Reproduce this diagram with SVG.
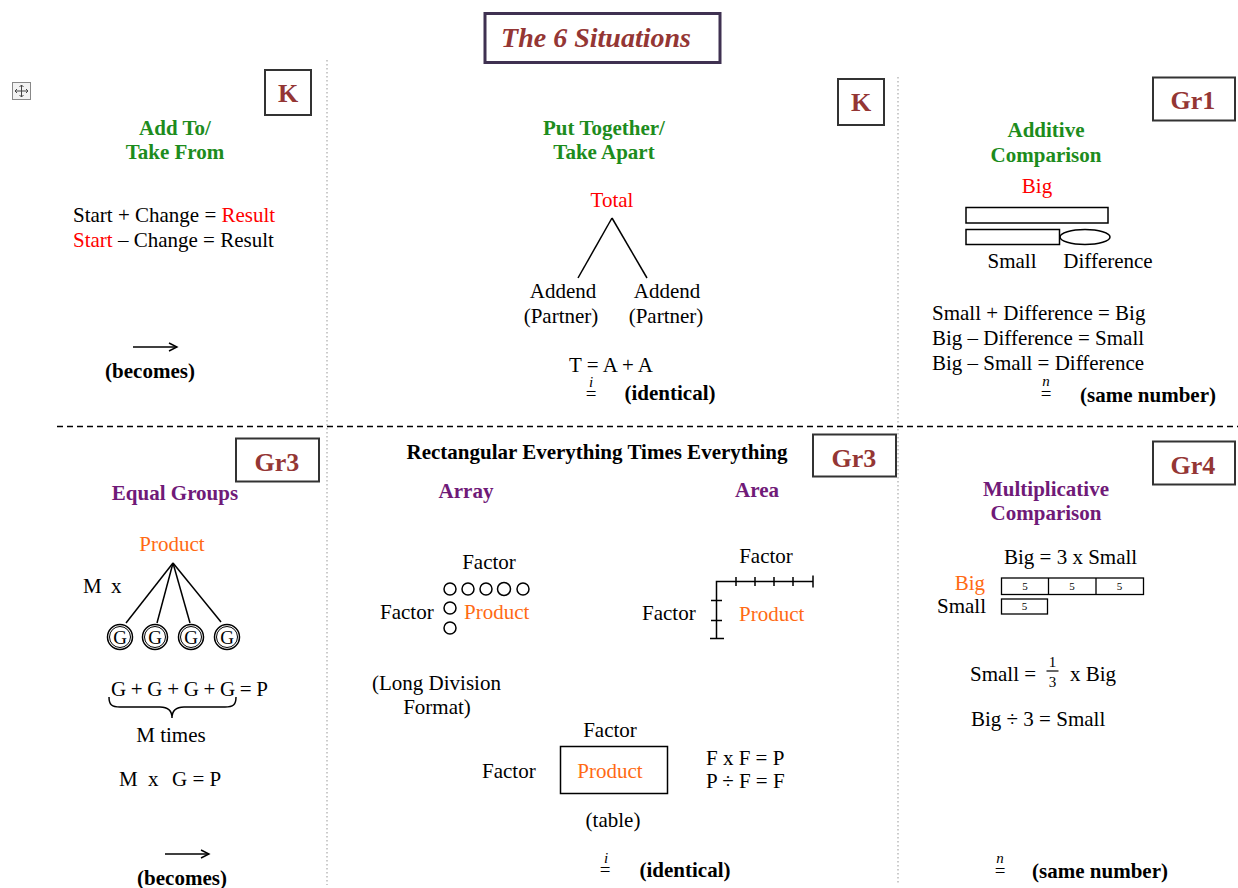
<svg xmlns="http://www.w3.org/2000/svg" width="1238" height="888" viewBox="0 0 1238 888">
<style>
text{font-family:"Liberation Serif","Times New Roman",serif;font-size:21px;fill:#000}
.b{font-weight:bold}
.c{text-anchor:middle}
.g{fill:#1d8c1d;font-weight:bold}
.p{fill:#701a78;font-weight:bold}
.r{fill:#f00}
.o{fill:#ff6a13}
.lvl{fill:#943634;font-weight:bold;font-size:26px;text-anchor:middle}
.lbox{fill:none;stroke:#333;stroke-width:2}
.ln{stroke:#000;stroke-width:1.5;fill:none}
.sep{stroke:#bbb;stroke-width:1.5;stroke-dasharray:1.5 2.5}
.sm{font-size:11px;text-anchor:middle}
.it{font-style:italic;font-size:15px;text-anchor:middle}
.eq{font-size:19px;text-anchor:middle}
</style>
<defs>
<marker id="arr" markerUnits="userSpaceOnUse" markerWidth="12" markerHeight="12" refX="10" refY="6" orient="auto">
<path d="M2,2 L10,6 L2,10" fill="none" stroke="#000" stroke-width="1.4"/>
</marker>
</defs>
<rect width="1238" height="888" fill="#fff"/>

<!-- layout lines -->
<g id="layout">
<line class="sep" x1="327" y1="60" x2="327" y2="885"/>
<line class="sep" x1="898" y1="77" x2="898" y2="885"/>
<line x1="57" y1="426.5" x2="1238" y2="426.5" stroke="#000" stroke-width="1.5" stroke-dasharray="6 4"/>
</g>

<g id="move-icon">
<rect x="12.5" y="82.5" width="18" height="17" fill="#f2f2f2" stroke="#888" stroke-width="1"/>
<path d="M21.5,85 V97 M15,91 H28 M19.5,87 L21.5,85 L23.5,87 M19.5,95 L21.5,97 L23.5,95 M17,89 L15,91 L17,93 M26,89 L28,91 L26,93" stroke="#444" stroke-width="1" fill="none"/>
</g>

<g id="title">
<rect x="485" y="13.5" width="235" height="49" fill="none" stroke="#3f3151" stroke-width="3"/>
<text x="596" y="47" class="c" style="font-weight:bold;font-style:italic;font-size:28px;fill:#943634">The 6 Situations</text>
</g>

<!-- Cell 1: Add To / Take From -->
<g id="add-to-take-from">
<rect class="lbox" x="265" y="70" width="46" height="45"/>
<text x="288" y="102" class="lvl">K</text>
<text x="175" y="135" class="g c">Add To/</text>
<text x="175" y="159" class="g c">Take From</text>
<text x="73" y="222">Start + Change = <tspan class="r">Result</tspan></text>
<text x="73" y="247"><tspan class="r">Start</tspan> – Change = Result</text>
<line class="ln" x1="133" y1="347" x2="177" y2="347" marker-end="url(#arr)"/>
<text x="150" y="378" class="b c">(becomes)</text>
</g>

<!-- Cell 2: Put Together / Take Apart -->
<g id="put-together-take-apart">
<rect class="lbox" x="838" y="79" width="46" height="46"/>
<text x="861" y="111" class="lvl">K</text>
<text x="604" y="135" class="g c">Put Together/</text>
<text x="604" y="159" class="g c">Take Apart</text>
<text x="612" y="207" class="r c">Total</text>
<text x="563" y="298" class="c">Addend</text>
<text x="561" y="323" class="c">(Partner)</text>
<text x="667" y="298" class="c">Addend</text>
<text x="666" y="323" class="c">(Partner)</text>
<text x="611" y="372" class="c">T = A + A</text>
<text x="591" y="387" class="it">i</text>
<text x="591" y="400" class="eq">=</text>
<text x="670" y="400" class="b c">(identical)</text>
</g>

<!-- Cell 3: Additive Comparison -->
<g id="additive-comparison">
<rect class="lbox" x="1153" y="77.5" width="82" height="43"/>
<text x="1193" y="109" class="lvl">Gr1</text>
<text x="1046" y="137" class="g c">Additive</text>
<text x="1046" y="162" class="g c">Comparison</text>
<text x="1037" y="193" class="r c">Big</text>
<rect class="ln" x="966" y="207.5" width="142" height="15.5"/>
<rect class="ln" x="966" y="229.5" width="93.5" height="15"/>
<ellipse class="ln" cx="1085" cy="237" rx="25" ry="7.5"/>
<text x="1012" y="268" class="c">Small</text>
<text x="1108" y="268" class="c">Difference</text>
<text x="932" y="320">Small + Difference = Big</text>
<text x="932" y="345">Big – Difference = Small</text>
<text x="932" y="370">Big – Small = Difference</text>
<text x="1046" y="386" class="it">n</text>
<text x="1046" y="400" class="eq">=</text>
<text x="1148" y="402" class="b c">(same number)</text>
</g>

<!-- Cell 4: Equal Groups -->
<g id="equal-groups">
<rect class="lbox" x="236" y="438.5" width="83" height="43"/>
<text x="277" y="471" class="lvl">Gr3</text>
<text x="175" y="500" class="p c">Equal Groups</text>
<text x="172" y="551" class="o c">Product</text>
<text x="83" y="593">M</text>
<text x="111" y="593">x</text>
<g id="g-circles">
<circle class="ln" cx="120" cy="637" r="12.5"/><circle cx="120" cy="637" r="10.5" fill="none" stroke="#000" stroke-width="1"/>
<circle class="ln" cx="155" cy="637" r="12.5"/><circle cx="155" cy="637" r="10.5" fill="none" stroke="#000" stroke-width="1"/>
<circle class="ln" cx="191" cy="637" r="12.5"/><circle cx="191" cy="637" r="10.5" fill="none" stroke="#000" stroke-width="1"/>
<circle class="ln" cx="227" cy="637" r="12.5"/><circle cx="227" cy="637" r="10.5" fill="none" stroke="#000" stroke-width="1"/>
<text x="120" y="644" class="c" style="font-size:19px">G</text>
<text x="155" y="644" class="c" style="font-size:19px">G</text>
<text x="191" y="644" class="c" style="font-size:19px">G</text>
<text x="227" y="644" class="c" style="font-size:19px">G</text>
</g>
<text x="111" y="696" textLength="157">G + G + G + G = P</text>
<path class="ln" d="M109,697 C109,705 112,707 120,707 L160,707 C168,707 172,710 172,718 C172,710 176,707 184,707 L225,707 C233,707 236,705 236,697"/>
<text x="171" y="742" class="c">M times</text>
<text x="119" y="786">M</text>
<text x="148" y="786">x</text>
<text x="172" y="786">G = P</text>
<line class="ln" x1="165" y1="854" x2="209" y2="854" marker-end="url(#arr)"/>
<text x="182" y="885" class="b c">(becomes)</text>
</g>

<!-- Cell 5: Rectangular -->
<g id="rectangular">
<text x="597" y="459" class="b c">Rectangular Everything Times Everything</text>
<rect class="lbox" x="813" y="434.5" width="83" height="42"/>
<text x="854" y="467" class="lvl">Gr3</text>
<text x="466" y="498" class="p c">Array</text>
<text x="757" y="497" class="p c">Area</text>
</g>

<g id="array">
<text x="489" y="569" class="c">Factor</text>
<circle class="ln" cx="450" cy="589" r="6"/>
<circle class="ln" cx="468" cy="589" r="6"/>
<circle class="ln" cx="486" cy="589" r="6"/>
<circle class="ln" cx="504" cy="589" r="6.5"/>
<circle class="ln" cx="523" cy="589" r="6"/>
<circle class="ln" cx="450" cy="608" r="6"/>
<circle class="ln" cx="450" cy="628" r="6"/>
<text x="380" y="619">Factor</text>
<text x="464" y="619" class="o">Product</text>
<text x="372" y="690">(Long Division</text>
<text x="437" y="714" class="c">Format)</text>
</g>

<g id="area">
<text x="766" y="563" class="c">Factor</text>
<path class="ln" d="M716.5,638.5 V581.5 H813 M736,577 V586 M755,577 V586 M774,577 V586 M793,577 V586 M813,575.5 V587.5 M711,600.5 H722 M711,620.5 H722 M710,638.5 H724"/>
<text x="642" y="620">Factor</text>
<text x="739" y="621" class="o">Product</text>
</g>

<g id="table">
<text x="610" y="737" class="c">Factor</text>
<rect class="ln" x="560.5" y="746.5" width="107" height="47"/>
<text x="610" y="778" class="o c">Product</text>
<text x="482" y="778">Factor</text>
<text x="706" y="765">F x F = P</text>
<text x="706" y="788">P ÷ F = F</text>
<text x="613" y="827" class="c">(table)</text>
<text x="606" y="863" class="it">i</text>
<text x="605" y="876" class="eq">=</text>
<text x="685" y="877" class="b c">(identical)</text>
</g>

<!-- Cell 6: Multiplicative Comparison -->
<g id="multiplicative-comparison">
<rect class="lbox" x="1153" y="441.5" width="82" height="43"/>
<text x="1193" y="474" class="lvl">Gr4</text>
<text x="1046" y="496" class="p c">Multiplicative</text>
<text x="1046" y="520" class="p c">Comparison</text>
<text x="1004" y="564">Big = 3 x Small</text>
<text x="985" y="590" class="o" text-anchor="end">Big</text>
<text x="986" y="613" text-anchor="end">Small</text>
<rect x="1001.5" y="578" width="142" height="16.5" fill="none" stroke="#000" stroke-width="1.3"/>
<line x1="1048.5" y1="578" x2="1048.5" y2="594.5" stroke="#000" stroke-width="1.3"/>
<line x1="1096" y1="578" x2="1096" y2="594.5" stroke="#000" stroke-width="1.3"/>
<rect x="1001.5" y="599" width="46" height="15" fill="none" stroke="#000" stroke-width="1.3"/>
<text x="1025" y="590" class="sm">5</text>
<text x="1072" y="590" class="sm">5</text>
<text x="1119.5" y="590" class="sm">5</text>
<text x="1024.5" y="610" class="sm">5</text>
<text x="970" y="681">Small =</text>
<text x="1052.5" y="667" class="c" style="font-size:15px">1</text>
<line x1="1046.5" y1="671" x2="1058.5" y2="671" stroke="#000" stroke-width="1.2"/>
<text x="1052.5" y="687" class="c" style="font-size:15px">3</text>
<text x="1070" y="681">x Big</text>
<text x="971" y="726">Big ÷ 3 = Small</text>
<text x="1000" y="863" class="it">n</text>
<text x="1000" y="877" class="eq">=</text>
<text x="1100" y="878" class="b c">(same number)</text>
</g>

<g id="connectors">
<line class="ln" x1="612" y1="218" x2="578" y2="278"/>
<line class="ln" x1="612" y1="218" x2="647" y2="278"/>
<line class="ln" x1="173" y1="563" x2="126" y2="623"/>
<line class="ln" x1="173" y1="563" x2="157" y2="623"/>
<line class="ln" x1="173" y1="563" x2="190" y2="623"/>
<line class="ln" x1="173" y1="563" x2="221" y2="622"/>
</g>
</svg>
